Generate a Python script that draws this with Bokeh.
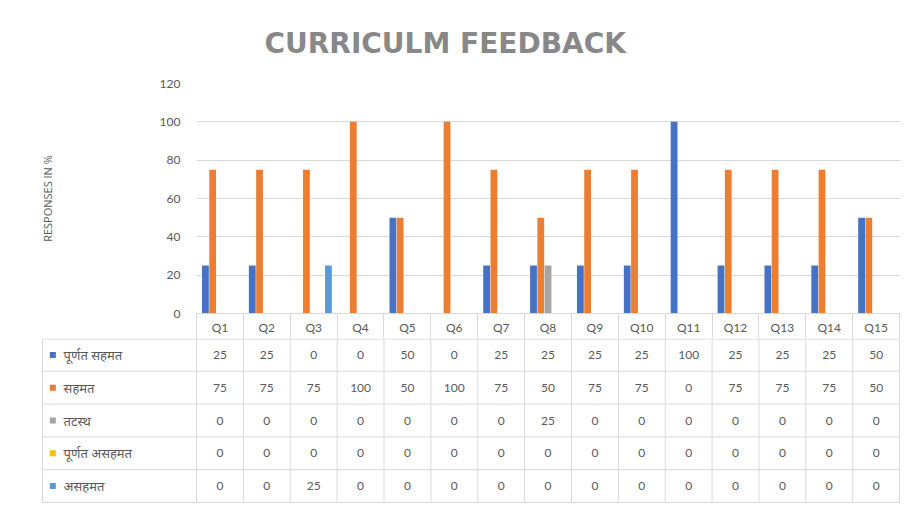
from bokeh.plotting import figure
from bokeh.models import Range1d, ColumnDataSource, FixedTicker
from bokeh.transform import dodge
from bokeh.layouts import column
from bokeh.core.properties import value
from bokeh.embed import file_html
from bokeh.resources import INLINE

# ---------------- data ----------------
questions = ["Q1", "Q2", "Q3", "Q4", "Q5", "Q6", "Q7", "Q8", "Q9", "Q10",
             "Q11", "Q12", "Q13", "Q14", "Q15"]
series_names = ["पूर्णत सहमत", "सहमत", "तटस्थ", "पूर्णत  असहमत", "असहमत"]
fully_agree = [25, 25, 0, 0, 50, 0, 25, 25, 25, 25, 100, 25, 25, 25, 50]
agree = [75, 75, 75, 100, 50, 100, 75, 50, 75, 75, 0, 75, 75, 75, 50]
neutral = [0, 0, 0, 0, 0, 0, 0, 25, 0, 0, 0, 0, 0, 0, 0]
fully_disagree = [0, 0, 0, 0, 0, 0, 0, 0, 0, 0, 0, 0, 0, 0, 0]
disagree = [0, 0, 25, 0, 0, 0, 0, 0, 0, 0, 0, 0, 0, 0, 0]
y_ticks = [0, 20, 40, 60, 80, 100, 120]
title_text = "CURRICULM FEEDBACK"
y_title = "RESPONSES IN %"

series_values = [fully_agree, agree, neutral, fully_disagree, disagree]
series_colors = ["#4472C4", "#ED7D31", "#A5A5A5", "#FFC000", "#5B9BD5"]

# ---------------- layout constants ----------------
W = 910
FRAME_L = 196
FRAME_R = 10
FRAME_T = 82
FRAME_H = 231
HDR_H = 25
ROW_H = 33
n_q = len(questions)
n_rows = len(series_names)
col_px = (W - FRAME_L - FRAME_R) / (n_q + 0.02)
label_col_px = 154
bar_offsets = [-0.31, -0.155, 0.0, 0.158, 0.315]
bar_w = 0.145
TEXT_COL = "#595959"
GRID_COL = "#d9d9d9"
FONT = "Lato"

# ---------------- chart ----------------
centers = [i + 0.5 for i in range(n_q)]
src_data = {"xc": centers}
for k, vals in enumerate(series_values):
    src_data[f"s{k}"] = vals
src = ColumnDataSource(src_data)

p1 = figure(x_range=Range1d(0, n_q + 0.02), y_range=Range1d(0, 120),
            width=W, height=FRAME_T + FRAME_H + HDR_H,
            output_backend="svg", toolbar_location=None,
            min_border_left=FRAME_L, min_border_right=FRAME_R,
            min_border_top=FRAME_T, min_border_bottom=HDR_H)
p1.frame_align = False
p1.outline_line_color = None
p1.xgrid.visible = False
p1.ygrid.ticker = FixedTicker(ticks=y_ticks)
p1.ygrid.grid_line_color = GRID_COL

# category axis doubling as the table header row
p1.xaxis.ticker = FixedTicker(ticks=centers, minor_ticks=list(range(n_q + 1)))
p1.xaxis.major_label_overrides = {c: q for c, q in zip(centers, questions)}
p1.xaxis.axis_line_color = GRID_COL
p1.xaxis.major_tick_line_color = None
p1.xaxis.major_tick_out = 0
p1.xaxis.major_tick_in = 0
p1.xaxis.minor_tick_line_color = GRID_COL
p1.xaxis.minor_tick_in = 0
p1.xaxis.minor_tick_out = HDR_H
p1.xaxis.major_label_standoff = -19
p1.xaxis.major_label_text_font = FONT
p1.xaxis.major_label_text_font_size = "12px"
p1.xaxis.major_label_text_color = TEXT_COL

p1.yaxis.ticker = FixedTicker(ticks=y_ticks)
p1.yaxis.axis_line_color = None
p1.yaxis.major_tick_line_color = None
p1.yaxis.minor_tick_line_color = None
p1.yaxis.major_label_standoff = 10
p1.yaxis.major_label_text_font = FONT
p1.yaxis.major_label_text_font_size = "12px"
p1.yaxis.major_label_text_color = TEXT_COL
p1.yaxis.axis_label = y_title
p1.yaxis.axis_label_text_font = "Open Sans"
p1.yaxis.axis_label_text_font_style = "normal"
p1.yaxis.axis_label_text_font_size = "11px"
p1.yaxis.axis_label_text_color = TEXT_COL
p1.yaxis.axis_label_standoff = 102

for k, color in enumerate(series_colors):
    p1.vbar(x=dodge("xc", bar_offsets[k]), top=f"s{k}",
            width=bar_w, source=src, fill_color=color, line_color=None)

p1.title.text = title_text
p1.title.align = "left"
p1.title.offset = 68
p1.title.text_font = "DejaVu Sans"
p1.title.text_font_style = "bold"
p1.title.text_font_size = "28px"
p1.title.text_color = "#888888"
p1.title.standoff = 48

# ---------------- data table ----------------
pad = 0.022
lbl_w = label_col_px / col_px
p2 = figure(x_range=Range1d(-lbl_w - pad, n_q + 0.02),
            y_range=Range1d(-n_rows - 0.03, 0.0),
            width=W, height=ROW_H * n_rows, output_backend="svg", toolbar_location=None,
            min_border_left=FRAME_L - label_col_px - 1, min_border_right=FRAME_R,
            min_border_top=0, min_border_bottom=0)
p2.frame_align = False
p2.outline_line_color = None
p2.axis.visible = False
p2.grid.visible = False

x0s, x1s, y0s, y1s = [], [], [], []
for r in range(1, n_rows + 1):
    x0s.append(-lbl_w); x1s.append(n_q); y0s.append(-r); y1s.append(-r)
for c in range(n_q + 1):
    x0s.append(c); x1s.append(c); y0s.append(-n_rows); y1s.append(0)
x0s.append(-lbl_w); x1s.append(-lbl_w); y0s.append(-n_rows); y1s.append(0)
p2.segment(x0=x0s, y0=y0s, x1=x1s, y1=y1s, line_color=GRID_COL, line_width=1)
p2.segment(x0=[-lbl_w], y0=[-0.015], x1=[n_q], y1=[-0.015], line_color=GRID_COL, line_width=1)

vx, vy, vt = [], [], []
for r, vals in enumerate(series_values):
    for i, v in enumerate(vals):
        vx.append(i + 0.5); vy.append(-r - 0.5); vt.append(str(v))
p2.text(x=vx, y=vy, text=vt, text_align="center", text_baseline="middle",
        text_font=value(FONT), text_font_size="12px", text_color=TEXT_COL)

ky = [-r - 0.5 for r in range(n_rows)]
p2.scatter(x=[-lbl_w + 0.22] * n_rows, y=ky, marker="square", size=6,
           fill_color=series_colors, line_color=None)
p2.text(x=[-lbl_w + 0.45] * n_rows, y=ky, text=series_names,
        text_align="left", text_baseline="middle", text_font=value("Noto Sans"),
        text_font_size="13px", text_color=TEXT_COL)

layout = column(p1, p2, spacing=0)
open("out.html", "w").write(file_html(layout, INLINE))
